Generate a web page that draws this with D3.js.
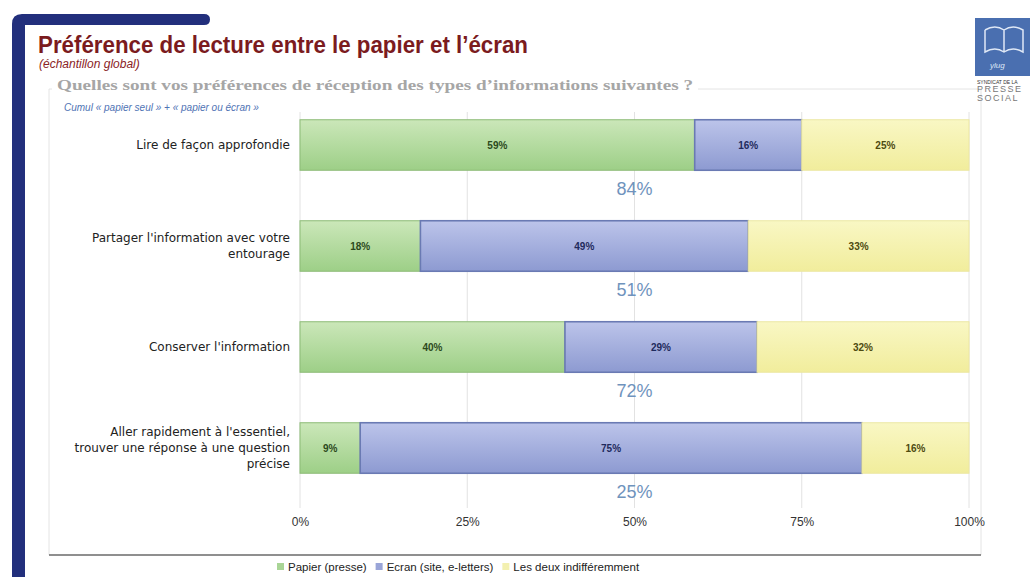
<!DOCTYPE html>
<html>
<head>
<meta charset="utf-8">
<script src="https://cdn.jsdelivr.net/npm/d3@7"></script>
<style>
  body { margin: 0; background: #fff; }
  svg { display: block; font-family: "Liberation Sans", Arial, sans-serif; }
</style>
</head>
<body>
<script>
// the data
var categories = [
  "Lire de façon approfondie",
  "Partager l'information avec votre entourage",
  "Conserver l'information",
  "Aller rapidement à l'essentiel, trouver une réponse à une question précise"
];
// category labels split into lines as in the picture
var categoryLines = [
  ["Lire de façon approfondie"],
  ["Partager l'information avec votre", "entourage"],
  ["Conserver l'information"],
  ["Aller rapidement à l'essentiel,", "trouver une réponse à une question", "précise"]
];
var papier = [59, 18, 40, 9];
var ecran = [16, 49, 29, 75];
var deux = [25, 33, 32, 16];
var cumul = [84, 51, 72, 25];
var seriesNames = ["Papier (presse)", "Ecran (site, e-letters)", "Les deux indifféremment"];
var tickValues = [0, 0.25, 0.5, 0.75, 1];

var width = 1030, height = 577;

var svg = d3.select("body").append("svg")
    .attr("width", width)
    .attr("height", height);

svg.append("rect").attr("width", width).attr("height", height).attr("fill", "#fff");

// gradients for the bars
var defs = svg.append("defs");
var grads = [
  {id: "gPap", top: "#cbe7b9", bottom: "#9dcf87"},
  {id: "gEcr", top: "#bcc4ea", bottom: "#8d9ad1"},
  {id: "gDeu", top: "#f9f7c4", bottom: "#f1ed9c"}
];
grads.forEach(function(g) {
  var lg = defs.append("linearGradient").attr("id", g.id)
      .attr("x1", 0).attr("y1", 0).attr("x2", 0).attr("y2", 1);
  lg.append("stop").attr("offset", "0%").attr("stop-color", g.top);
  lg.append("stop").attr("offset", "100%").attr("stop-color", g.bottom);
});
var fills = ["url(#gPap)", "url(#gEcr)", "url(#gDeu)"];
var strokes = ["#8cbb76", "#6a7ab3", "#ece7a2"];
var labelColors = ["#2c4a1c", "#1f2a5c", "#4d4a10"];
var legendColors = ["#a9d596", "#9aa5d8", "#f3f0b0"];

// left navy frame
svg.append("path")
    .attr("d", "M12,577 L12,24 Q12,14 22,14 L204,14 Q210,14 210,19.5 Q210,25 204,25 L25,25 L25,577 Z")
    .attr("fill", "#222f7c");

// light box around chart
svg.append("path")
    .attr("d", "M49,555 L49,89 L981,89 L981,555")
    .attr("fill", "none")
    .attr("stroke", "#e4e4e4");
svg.append("line")
    .attr("x1", 49).attr("x2", 981).attr("y1", 555).attr("y2", 555)
    .attr("stroke", "#6a6a6a").attr("stroke-width", 1.5);

// title block
svg.append("text")
    .attr("x", 38).attr("y", 53)
    .attr("font-size", 23).attr("font-weight", "bold")
    .attr("fill", "#7b1b1e")
    .attr("textLength", 490).attr("lengthAdjust", "spacingAndGlyphs")
    .text("Préférence de lecture entre le papier et l’écran");
svg.append("text")
    .attr("x", 39).attr("y", 68)
    .attr("font-size", 12).attr("font-style", "italic")
    .attr("fill", "#8a2326")
    .text("(échantillon global)");

svg.append("rect").attr("x", 52).attr("y", 80).attr("width", 646).attr("height", 12).attr("fill", "#fff");
svg.append("text")
    .attr("x", 57).attr("y", 90)
    .attr("font-family", "'Liberation Serif', 'DejaVu Serif', serif")
    .attr("font-size", 14).attr("font-weight", "bold")
    .attr("fill", "#a6a6a6")
    .attr("textLength", 636).attr("lengthAdjust", "spacingAndGlyphs")
    .text("Quelles sont vos préférences de réception des types d’informations suivantes ?");
svg.append("text")
    .attr("x", 64).attr("y", 111)
    .attr("font-size", 10).attr("font-style", "italic")
    .attr("fill", "#4f73b4")
    .text("Cumul « papier seul » + « papier ou écran »");

// logo at the top right
var logo = svg.append("g");
logo.append("rect").attr("x", 975).attr("y", 18).attr("width", 60).attr("height", 58).attr("fill", "#4a6fb0");
logo.append("path")
    .attr("d", "M985,30 L985,52 Q995,46 1004,52 Q1013,46 1023,52 L1023,30 Q1013,24 1004,30 Q995,24 985,30 M1004,30 L1004,52")
    .attr("fill", "none").attr("stroke", "#dfe8f6").attr("stroke-width", 1.5);
logo.append("text").attr("x", 990).attr("y", 68).attr("font-size", 8).attr("font-style", "italic")
    .attr("fill", "#dfe8f6").text("ylug");
logo.append("text").attr("x", 977).attr("y", 84).attr("font-size", 5).attr("fill", "#333").text("SYNDICAT DE LA");
logo.append("text").attr("x", 977).attr("y", 92).attr("font-size", 9).attr("letter-spacing", 1.5).attr("fill", "#777").text("PRESSE");
logo.append("text").attr("x", 977).attr("y", 101).attr("font-size", 9).attr("letter-spacing", 1.5).attr("fill", "#777").text("SOCIAL");

// scales (100% stacked, so the domain is 0..1)
var x = d3.scaleLinear().domain([0, 1]).range([300, 969]);
var y = d3.scaleBand().domain(categories).range([94.5, 498.5]).paddingInner(0.5).paddingOuter(0.25);

// grid lines
svg.append("g").selectAll("line")
    .data(tickValues)
    .enter().append("line")
    .attr("x1", function(d) { return x(d); })
    .attr("x2", function(d) { return x(d); })
    .attr("y1", 112).attr("y2", 508)
    .attr("stroke", "#e2e2e2");

// x axis labels
var xAxis = d3.axisBottom(x)
    .tickValues(tickValues)
    .tickSize(0)
    .tickPadding(0)
    .tickFormat(d3.format(".0%"));
var ax = svg.append("g").attr("transform", "translate(0,517)").call(xAxis);
ax.select(".domain").remove();
ax.selectAll("text").attr("font-size", 12).attr("fill", "#333").attr("font-family", "'Liberation Sans', sans-serif");

// stacked data
var rows = categories.map(function(c, i) {
  return {category: c, values: [papier[i], ecran[i], deux[i]]};
});
var stack = d3.stack()
    .keys([0, 1, 2])
    .value(function(d, k) { return d.values[k]; })
    .offset(d3.stackOffsetExpand);
var layers = stack(rows);

var layerG = svg.append("g").selectAll("g")
    .data(layers)
    .enter().append("g");

layerG.selectAll("rect")
    .data(function(d) { return d.map(function(p) { return {p: p, key: d.key}; }); })
    .enter().append("rect")
    .attr("x", function(d) { return x(d.p[0]); })
    .attr("y", function(d) { return y(d.p.data.category); })
    .attr("width", function(d) { return x(d.p[1]) - x(d.p[0]); })
    .attr("height", y.bandwidth())
    .attr("fill", function(d) { return fills[d.key]; })
    .attr("stroke", function(d) { return strokes[d.key]; })
    .attr("stroke-width", function(d) { return d.key === 1 ? 1.6 : 1; });

layerG.selectAll("text")
    .data(function(d) { return d.map(function(p) { return {p: p, key: d.key}; }); })
    .enter().append("text")
    .attr("x", function(d) { return (x(d.p[0]) + x(d.p[1])) / 2; })
    .attr("y", function(d) { return y(d.p.data.category) + y.bandwidth() / 2 + 4; })
    .attr("text-anchor", "middle")
    .attr("font-size", 10).attr("font-weight", "bold")
    .attr("fill", function(d) { return labelColors[d.key]; })
    .text(function(d) { return d.p.data.values[d.key] + "%"; });

// category labels
var catG = svg.append("g").selectAll("text")
    .data(categories)
    .enter().append("text")
    .attr("text-anchor", "end")
    .attr("font-family", "'DejaVu Sans', sans-serif")
    .attr("font-size", 12)
    .attr("fill", "#222")
    .attr("y", function(d, i) {
      var n = categoryLines[i].length;
      return y(d) + y.bandwidth() / 2 + 4 - (n - 1) * 8;
    });
catG.each(function(d, i) {
  d3.select(this).selectAll("tspan")
      .data(categoryLines[i])
      .enter().append("tspan")
      .attr("x", 290)
      .attr("dy", function(t, j) { return j === 0 ? 0 : 16; })
      .text(function(t) { return t; });
});

// cumul labels under each bar
svg.append("g").selectAll("text")
    .data(categories)
    .enter().append("text")
    .attr("x", x(0.5))
    .attr("y", function(d) { return y(d) + y.bandwidth() + 25; })
    .attr("text-anchor", "middle")
    .attr("font-size", 18)
    .attr("fill", "#6f93bd")
    .text(function(d, i) { return cumul[i] + "%"; });

// legend, items placed one after the other
var lg = svg.append("g").attr("transform", "translate(277,568)");
var cursor = 0;
seriesNames.forEach(function(name, i) {
  var item = lg.append("g").attr("transform", "translate(" + cursor + ",0)");
  item.append("rect").attr("x", 0).attr("y", -5).attr("width", 7).attr("height", 7)
      .attr("fill", legendColors[i]);
  var t = item.append("text").attr("x", 11).attr("y", 3)
      .attr("font-size", 11.5).attr("fill", "#222")
      .text(name);
  cursor += 11 + t.node().getComputedTextLength() + 9;
});
</script>
</body>
</html>
